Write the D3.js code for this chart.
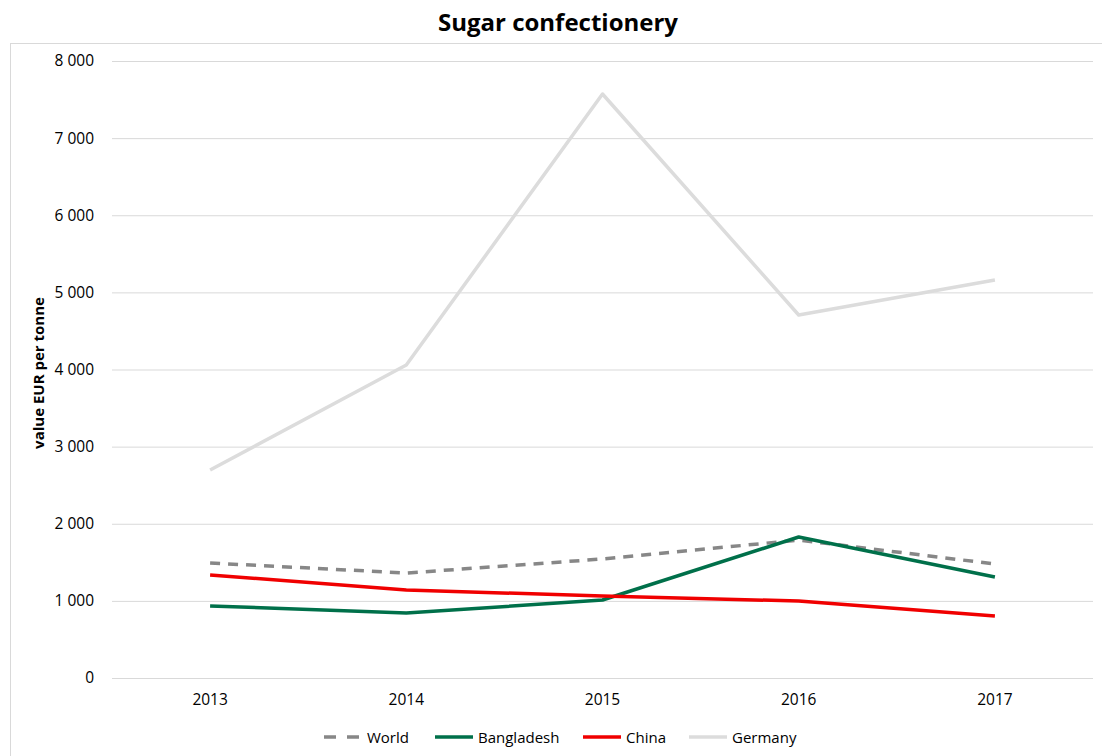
<!DOCTYPE html>
<html><head><meta charset="utf-8">
<script src="https://cdn.jsdelivr.net/npm/d3@7"></script>
<style>body{margin:0;background:#fff;}svg{display:block;font-family:"Open Sans",sans-serif;}</style>
</head><body>
<svg id="c" width="1102" height="756"></svg>
<script>
const years = ["2013","2014","2015","2016","2017"];
const world = [1491, 1361, 1543, 1789, 1478];
const bangladesh = [934, 843, 1011, 1828, 1310];
const china = [1336, 1141, 1063, 998, 804];
const germany = [2697, 4058, 7572, 4707, 5160];
const yTicks = [0,1000,2000,3000,4000,5000,6000,7000,8000];
const seriesNames = ["World","Bangladesh","China","Germany"];
const seriesColors = ["#878787","#00704a","#f00000","#dcdcdc"];

const series = [
  {name: seriesNames[0], values: world, color: seriesColors[0], dash: "10,8"},
  {name: seriesNames[1], values: bangladesh, color: seriesColors[1], dash: null},
  {name: seriesNames[2], values: china, color: seriesColors[2], dash: null},
  {name: seriesNames[3], values: germany, color: seriesColors[3], dash: null}
];

const svg = d3.select("#c");
const L = 112, R = 1093, T = 61, B = 678;
const FF = "'Open Sans',sans-serif";

svg.append("rect").attr("x",10.5).attr("y",43.5).attr("width",1120).attr("height",760)
  .attr("fill","none").attr("stroke","#d9d9d9").attr("stroke-width",1);

svg.append("text").attr("x",558).attr("y",31).attr("text-anchor","middle")
  .attr("font-size",24).attr("font-weight","bold").attr("fill","#000").text("Sugar confectionery");

const x = d3.scaleBand().domain(years).range([L,R]);
const y = d3.scaleLinear().domain([0,8000]).range([B,T]);
const fmt = v => d3.format(",")(v).replace(/,/g," ");

const yAxis = svg.append("g").attr("transform",`translate(${L},0)`)
  .call(d3.axisLeft(y).tickValues(yTicks).tickSize(-(R-L)).tickFormat(fmt).tickPadding(18));
yAxis.select(".domain").remove();
yAxis.selectAll(".tick line").attr("stroke","#d9d9d9").attr("stroke-width",1);
yAxis.selectAll(".tick text").attr("font-size",15.5).attr("fill","#000").attr("font-family",FF);

const xAxis = svg.append("g").attr("transform",`translate(0,${B})`)
  .call(d3.axisBottom(x).tickSize(0).tickPadding(16));
xAxis.select(".domain").remove();
xAxis.selectAll(".tick text").attr("font-size",15.5).attr("fill","#000").attr("font-family",FF);

svg.append("text").attr("transform","translate(44,373) rotate(-90)").attr("text-anchor","middle")
  .attr("font-size",15).attr("font-weight","bold").attr("fill","#000").text("value EUR per tonne");

const line = d3.line().x((d,i)=>x(years[i])+x.bandwidth()/2).y(d=>y(d));
series.forEach(s=>{
  svg.append("path").attr("d",line(s.values)).attr("fill","none")
    .attr("stroke",s.color).attr("stroke-width",3.5)
    .attr("stroke-dasharray",s.dash).attr("stroke-linejoin","round");
});

const legX = [324, 435, 583, 689];
const lg = svg.append("g");
series.forEach((s,i)=>{
  const g = lg.append("g").attr("transform",`translate(${legX[i]},737)`);
  g.append("line").attr("x1",0).attr("x2",38).attr("y1",0).attr("y2",0)
    .attr("stroke",s.color).attr("stroke-width",3.5).attr("stroke-dasharray",s.dash?"12,11":null);
  g.append("text").attr("x",43).attr("y",5.5).attr("font-size",15).attr("fill","#000").text(s.name);
});
</script>
</body></html>
